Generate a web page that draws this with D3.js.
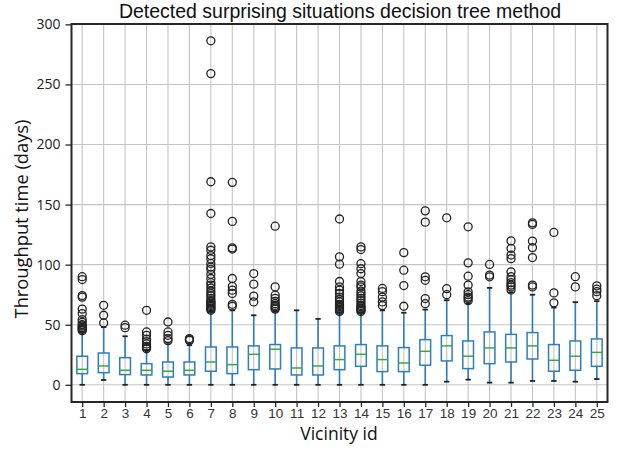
<!DOCTYPE html>
<html><head><meta charset="utf-8">
<script src="https://cdn.jsdelivr.net/npm/d3@7/dist/d3.min.js"></script>
<style>body{margin:0;background:#fff}svg{display:block}</style>
</head><body>
<svg id="c" width="640" height="476"></svg>
<script>
const categories = d3.range(1, 26).map(String);
const q1 =      [9.3, 10.1, 8.5, 8.2, 6.5, 8.2, 11.3, 9.3, 12.6, 13.2, 8.2, 8.2, 12.6, 15.4, 11.0, 11.0, 16.3, 19.9, 13.5, 17.6, 19.0, 21.5, 11.3, 12.1, 15.4];
const medians = [12.9, 15.7, 12.1, 12.1, 11.3, 12.1, 19.0, 16.8, 25.4, 29.6, 14.0, 15.7, 21.0, 25.4, 21.0, 18.2, 27.9, 32.4, 23.8, 30.7, 30.7, 32.4, 20.4, 23.8, 27.0];
const q3 =      [23.8, 26.5, 22.6, 17.6, 19.0, 19.0, 31.5, 31.5, 32.4, 33.5, 30.7, 30.7, 32.4, 33.5, 32.4, 31.0, 37.6, 41.0, 36.5, 44.0, 42.0, 43.5, 33.5, 36.5, 38.2];
const whiskLo = [0, 4, 0, 0, 0, 0, 0, 0, 0, 0, 0, 0, 0, 0, 0, 0, 0, 2.6, 4.3, 1.8, 1.8, 3.2, 3.2, 2.6, 4.8];
const whiskHi = [44, 48, 40.4, 29, 35, 33, 61, 62, 57.9, 61, 62, 54.9, 60, 60, 62, 60, 62.6, 70.4, 68, 80.7, 77, 75, 64.3, 68.8, 69.6];
const fliers = [
  [90, 87.6, 74.3, 73, 63, 59.3, 54.3, 52, 50, 49, 48, 47, 46, 45],
  [66.2, 57.9, 51.5],
  [49.6, 47.6],
  [62, 44, 41.2, 38, 36, 34, 32, 31, 30],
  [52.3, 44, 41.2, 38.5, 36.7],
  [38.5, 37.6, 37],
  [286.3, 259, 169, 142.6, 114.8, 112, 107.6, 104.8, 101, 98, 96, 92, 88.5, 85, 83, 80.6, 78, 76, 74, 72, 70, 69, 68, 67, 66, 65, 64, 63, 62],
  [168.5, 136, 114, 113, 88.5, 82, 78.8, 76, 67, 65.4],
  [92.6, 83.8, 73.8, 69],
  [132, 81.5, 74.6, 72, 69.5, 67.5, 66, 65, 64, 63],
  [],
  [],
  [138, 106.5, 100.4, 86, 81.5, 78.8, 76, 73, 71, 69, 67, 66, 65, 64, 63, 62, 61],
  [114.8, 112.6, 100.8, 96.6, 92.6, 86, 83, 81.5, 78, 76, 74, 72, 70, 68, 66, 65, 64, 63, 62, 61],
  [80.2, 77.5, 73, 69, 66],
  [110, 95.4, 82.6, 65.4],
  [144.8, 135.4, 89.9, 87, 71.8, 67.5],
  [139, 80, 75],
  [131.5, 101.5, 90.4, 83, 77.4, 75, 73, 72, 70],
  [100.2, 91.3, 89.9],
  [119.8, 113.5, 108, 105, 94, 90, 87.5, 85, 83, 81.5, 79],
  [134.8, 133.5, 119.6, 114.2, 105.9, 83, 81.5],
  [126.8, 76.5, 68.2],
  [90, 81.5],
  [82.4, 79.6, 77.5, 74.2]
];
const yTicks = [0, 50, 100, 150, 200, 250, 300];

const svg = d3.select("#c");
const L = 71.5, R = 607.5, T = 24, B = 402;
const x = d3.scaleLinear().domain([0.5, 25.5]).range([L, R]);
const y = d3.scaleLinear().domain([-14.3, 300.3]).range([B, T]);
const bw = (x(2) - x(1)) * 0.5;
const capW = bw * 0.5;

// grid
const g = svg.append("g");
g.selectAll(".gx").data(categories).enter().append("line")
  .attr("x1", (d, i) => x(i + 1)).attr("x2", (d, i) => x(i + 1))
  .attr("y1", T).attr("y2", B).attr("stroke", "#c4c4c4").attr("stroke-width", 1.1);
g.selectAll(".gy").data(yTicks).enter().append("line")
  .attr("x1", L).attr("x2", R).attr("y1", d => y(d)).attr("y2", d => y(d))
  .attr("stroke", "#c4c4c4").attr("stroke-width", 1.1);

const blue = "#2e7ebd";
const boxes = svg.append("g");
categories.forEach((c, i) => {
  const cx = x(i + 1);
  const gb = boxes.append("g");
  gb.append("line").attr("x1", cx).attr("x2", cx).attr("y1", y(q3[i])).attr("y2", y(whiskHi[i]))
    .attr("stroke", blue).attr("stroke-width", 1.6);
  gb.append("line").attr("x1", cx).attr("x2", cx).attr("y1", y(q1[i])).attr("y2", y(whiskLo[i]))
    .attr("stroke", blue).attr("stroke-width", 1.6);
  [whiskHi[i], whiskLo[i]].forEach(v => {
    gb.append("line").attr("x1", cx - capW / 2).attr("x2", cx + capW / 2).attr("y1", y(v)).attr("y2", y(v))
      .attr("stroke", "#222").attr("stroke-width", 1.8);
  });
  gb.append("rect").attr("x", cx - bw / 2).attr("width", bw)
    .attr("y", y(q3[i])).attr("height", y(q1[i]) - y(q3[i]))
    .attr("fill", "none").attr("stroke", blue).attr("stroke-width", 1.5);
  gb.append("line").attr("x1", cx - bw / 2).attr("x2", cx + bw / 2).attr("y1", y(medians[i])).attr("y2", y(medians[i]))
    .attr("stroke", "#3aaa35").attr("stroke-width", 1.5);
  gb.selectAll("circle").data(fliers[i]).enter().append("circle")
    .attr("cx", cx).attr("cy", d => y(d)).attr("r", 4)
    .attr("fill", "none").attr("stroke", "#222").attr("stroke-width", 1.3);
});

// frame
svg.append("rect").attr("x", L).attr("y", T).attr("width", R - L).attr("height", B - T)
  .attr("fill", "none").attr("stroke", "#262626").attr("stroke-width", 2);

// axes
const yAxis = d3.axisLeft(y).tickValues(yTicks).tickSize(6).tickPadding(5);
const ya = svg.append("g").attr("transform", `translate(${L},0)`).call(yAxis);
ya.select(".domain").remove();
ya.selectAll("line").attr("stroke", "#262626").attr("stroke-width", 1.3);
ya.selectAll("text").attr("font-family", "'Open Sans', sans-serif").attr("font-size", 14).attr("fill", "#222");

const xAxis = d3.axisBottom(x).tickValues(d3.range(1, 26)).tickFormat((d, i) => categories[i]).tickSize(5).tickPadding(1);
const xa = svg.append("g").attr("transform", `translate(0,${B})`).call(xAxis);
xa.select(".domain").remove();
xa.selectAll("line").attr("stroke", "#262626").attr("stroke-width", 1.3);
xa.selectAll("text").attr("font-family", "'Liberation Sans', Arial, sans-serif").attr("font-size", 13.5).attr("fill", "#333");

// labels
svg.append("text").attr("x", 340).attr("y", 18).attr("text-anchor", "middle")
  .attr("font-family", "'Liberation Sans', Arial, sans-serif").attr("font-size", 19.5).attr("fill", "#111")
  .text("Detected surprising situations decision tree method");
svg.append("text").attr("transform", "translate(28,219) rotate(-90)").attr("text-anchor", "middle")
  .attr("font-family", "'Open Sans', sans-serif").attr("font-size", 18.3).attr("fill", "#111")
  .text("Throughput time (days)");
svg.append("text").attr("x", 339).attr("y", 440).attr("text-anchor", "middle")
  .attr("font-family", "'Open Sans', sans-serif").attr("font-size", 17.5).attr("fill", "#111")
  .text("Vicinity id");
</script>
</body></html>
